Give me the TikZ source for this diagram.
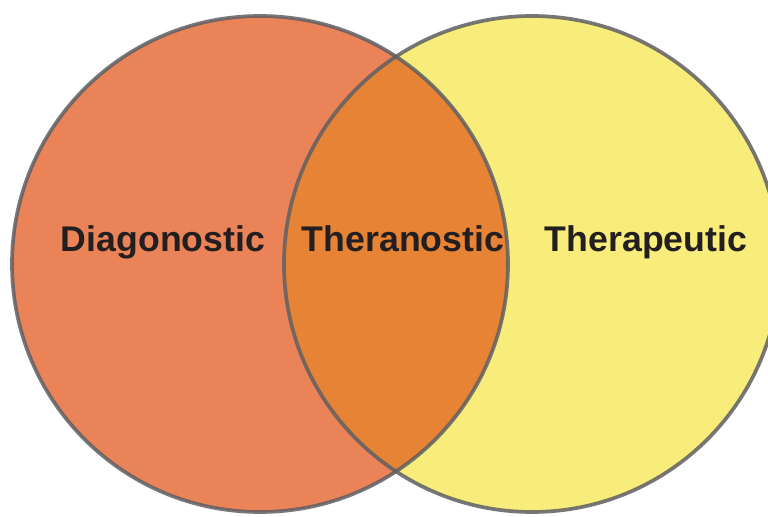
\documentclass[tikz,border=0pt]{standalone}
\usepackage{fontspec}
\setmainfont{Liberation Sans}
\usepackage{tikz}
\usetikzlibrary{positioning}
\usepackage{xcolor}
\definecolor{diagorange}{RGB}{234,132,88}
\definecolor{therayellow}{RGB}{248,237,122}
\definecolor{overlaporange}{RGB}{230,131,52}
\definecolor{rimgrey}{RGB}{95,95,100}
\definecolor{labelink}{RGB}{35,31,32}

\begin{document}
\begin{tikzpicture}[every node/.style={font=\fontsize{20.3}{24}\selectfont\bfseries,text=labelink},
    rim/.style={draw=rimgrey,draw opacity=0.85,line width=2.1pt}]
        \useasboundingbox (0,0) rectangle (15.36,10.34);
        \clip (0,0) rectangle (15.36,10.34);
        \coordinate (dc) at (5.2,5.06);
        \coordinate (tc) at (10.64,5.06);
        % filled sets
        \fill[diagorange] (dc) circle (4.96cm);
        \fill[therayellow] (tc) circle (4.96cm);
        \begin{scope}
          \clip (dc) circle (4.96cm);
          \fill[overlaporange] (tc) circle (4.96cm);
        \end{scope}
        % outlines
        \draw[rim] (dc) circle (4.96cm);
        \draw[rim] (tc) circle (4.96cm);
        % labels
        \node[anchor=base] (diag) at (3.26,5.30) {Diagonostic};
        \node[anchor=base] (theran) at (8.06,5.30) {Theranostic};
        \node[anchor=base] (therap) at (12.92,5.30) {Therapeutic};
      \end{tikzpicture}
\end{document}
